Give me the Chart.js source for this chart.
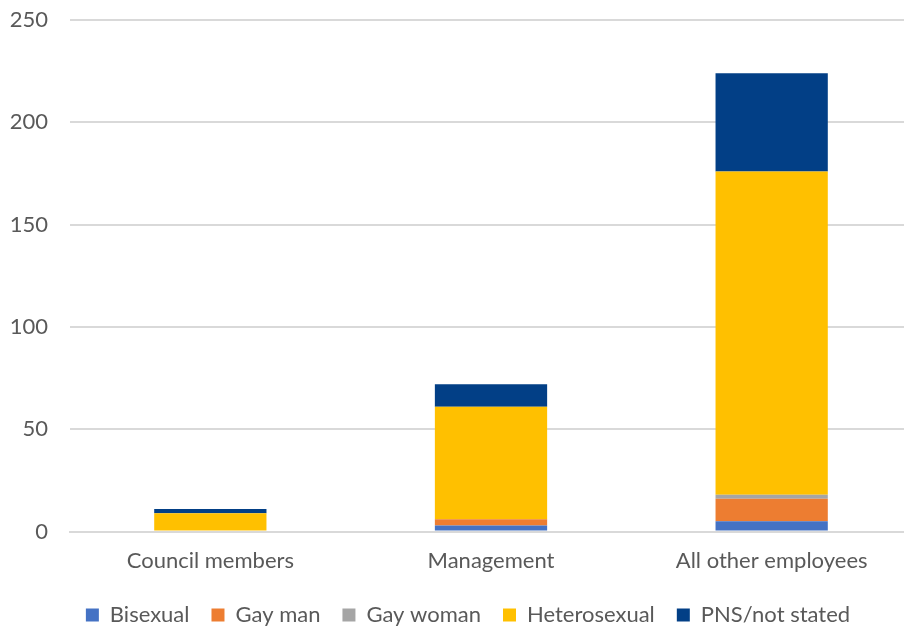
<!DOCTYPE html>
<html>
<head>
<meta charset="utf-8">
<script src="https://cdn.jsdelivr.net/npm/chart.js@4"></script>
<style>
  html, body { margin: 0; padding: 0; background: #fff; overflow: hidden; }
  #wrap { width: 912px; height: 628px; position: relative; }
</style>
</head>
<body>
<div id="wrap"><canvas id="chart"></canvas></div>
<script>
const categories   = ['Council members', 'Management', 'All other employees'];
const bisexual     = [0, 3, 5];
const gayMan       = [0, 3, 11];
const gayWoman     = [0, 0, 2];
const heterosexual = [9, 55, 158];
const pnsNotStated = [2, 11, 48];

Chart.defaults.font.family = "Lato, 'Open Sans', sans-serif";
Chart.defaults.font.size = 22;
Chart.defaults.color = '#595959';

function series(label, data, color) {
    return {
        label: label,
        data: data,
        backgroundColor: color,
        borderWidth: 0,
        categoryPercentage: 1,
        barPercentage: 0.4
    };
}

// keep the legend short and nudge it a little right, like the original
const legendPlace = {
    id: 'legendPlace',
    afterInit(chart) {
        const lg = chart.legend;
        const fit = lg.fit;
        lg.fit = function () {
            fit.call(this);
            this.height = 46;
        };
    },
    afterLayout(chart) {
        const lg = chart.legend;
        lg.left += 12;
        lg.right += 12;
    }
};

new Chart(document.getElementById('chart'), {
    type: 'bar',
    data: {
        labels: categories,
        datasets: [
            series('Bisexual', bisexual, '#4472C4'),
            series('Gay man', gayMan, '#ED7D31'),
            series('Gay woman', gayWoman, '#A5A5A5'),
            series('Heterosexual', heterosexual, '#FFC000'),
            series('PNS/not stated', pnsNotStated, '#023F86')
        ]
    },
    plugins: [legendPlace],
    options: {
        responsive: true,
        maintainAspectRatio: false,
        animation: false,
        plugins: {
            legend: {
                position: 'bottom',
                labels: {
                    boxWidth: 13,
                    boxHeight: 13,
                    padding: 22,
                    font: { size: 22 },
                    color: '#595959'
                }
            },
            tooltip: { enabled: false }
        },
        scales: {
            x: {
                stacked: true,
                grid: { display: false },
                border: { color: '#d9d9d9', width: 2 },
                ticks: { color: '#595959', padding: 8, font: { size: 22 } }
            },
            y: {
                stacked: true,
                min: 0,
                max: 250,
                afterFit: function (scale) {
                    scale.width = 70;
                    scale.paddingTop = 20;
                },
                grid: { color: '#d9d9d9', lineWidth: 2, drawTicks: false },
                border: { display: false },
                ticks: { stepSize: 50, padding: 22, color: '#595959', font: { size: 22 } }
            }
        }
    }
});
</script>
</body>
</html>
